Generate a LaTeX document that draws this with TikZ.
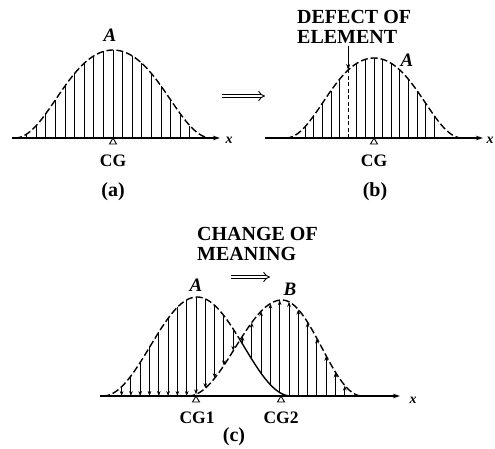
\documentclass[tikz,border=0pt]{standalone}
\usepackage{fontspec}
\setmainfont{Liberation Serif}
\usetikzlibrary{arrows.meta}

\begin{document}
\begin{tikzpicture}[x=1pt, y=-1pt, every node/.style={inner sep=0pt, font=\fontsize{20}{19.5}\selectfont\bfseries},
    xaxis/.style={line width=1.6pt, -{Stealth[length=7pt,width=4.5pt]}},
    bell/.style={line width=1.4pt, dash pattern=on 7pt off 3pt},
    bellsolid/.style={line width=1.4pt},
    elem/.style={line width=1pt},
    defectline/.style={line width=1pt, dash pattern=on 4pt off 2.5pt},
    move/.style={line width=1pt, -{Stealth[length=5pt,width=3.6pt]}},
    pointer/.style={line width=1pt, -{Stealth[length=6pt,width=4pt]}},
    goes/.style={double, double distance=2.6pt, line width=0.9pt, -{Implies}},
    cgmark/.style={line width=0.9pt, fill=white},
    cglab/.style={font=\fontsize{17.5}{18}\selectfont\bfseries},
    curvelab/.style={font=\fontsize{19}{19}\selectfont\bfseries\itshape},
    xlab/.style={font=\fontsize{14}{14}\selectfont\bfseries\itshape},
    declare function={cb(\t,\w)=0.5*(1+cos(180*(\t/\w)));
      bump(\t,\w)=cb(\t,\w)*(1.3-0.3*cb(\t,\w));
      fa(\t)=(abs(\t-197)<94) ? 49.5*(1+cos(180*((\t-197)/94))) : 0;
      fb(\t)=(\t<282) ? ((\t>188) ? 48*(1+cos(180*((\t-282)/94))) : 0) : ((\t<362) ? 48*(1+cos(180*((\t-282)/80))) : 0);}]
    \useasboundingbox (0,0) rectangle (495,448);

    \draw[xaxis] (12,138) -- (220,138);
    \foreach \k in {-9,...,8}
      \draw[elem] ({113+9.6*(\k)},138) -- ({113+9.6*(\k)},{138-88*bump(9.6*(\k),98)});
    \draw[bell] plot[domain=-98:98, samples=80] ({113+\x},{138-88*bump(\x,98)});
    \draw[cgmark] (113,138) -- ++(-3.5,6) -- ++(7,0) -- cycle;
    \node[curvelab] (labA) at (110,35) {A};
    \node[cglab] (cgA) at (113,161) {CG};
    \node (capA) at (113,192) {(a)};
    \node[xlab] (xA) at (229,140) {x};

    \coordinate (fromA) at (222,96);
    \coordinate (toB) at (265,96);
    \draw[goes] (fromA) -- (toB);

    \draw[xaxis] (265,138) -- (483,138);
    \foreach \k in {-8,...,-4,-2,-1,...,7}
      \draw[elem] ({374+8.6*(\k)},138) -- ({374+8.6*(\k)},{138-80*bump(8.6*(\k),88)});
    \coordinate (defecttip) at (348.2,{138-80*bump(-25.8,88)});
    \draw[defectline] (348.2,138) -- (defecttip);
    \draw[bell] plot[domain=-88:88, samples=80] ({374+\x},{138-80*bump(\x,88)});
    \draw[cgmark] (374,138) -- ++(-3.5,6) -- ++(7,0) -- cycle;
    \node[curvelab] (labA2) at (407,60) {A};
    \node[cglab] (cgB) at (374,161) {CG};
    \node (capB) at (375,192) {(b)};
    \node[xlab] (xB) at (490,140) {x};
    \node[align=left, anchor=north west] (defect) at (297,10.5) {DEFECT OF\\ELEMENT};
    \draw[pointer] ([yshift=-2pt]defect.south -| defecttip) -- (defecttip);

    \draw[xaxis] (100,396) -- (400,396);
    \foreach \k in {-8,...,17}{
      \pgfmathsetmacro\xx{196+9.3*(\k)}
      \pgfmathsetmacro\ya{396-fa(\xx)}
      \pgfmathsetmacro\yb{396-fb(\xx)}
      \pgfmathtruncatemacro\ok{abs(\ya-\yb)>5}
      \ifnum\ok=1 \draw[move] (\xx,\ya) -- (\xx,\yb); \fi
    }
    \draw[bell] plot[domain=103:239, samples=70] (\x,{396-fa(\x)});
    \draw[bellsolid] plot[domain=239:291, samples=30] (\x,{396-fa(\x)});
    \draw[bell] plot[domain=188:362, samples=90] (\x,{396-fb(\x)});
    \draw[cgmark] (196,396) -- ++(-3.5,6) -- ++(7,0) -- cycle;
    \draw[cgmark] (281,396) -- ++(-3.5,6) -- ++(7,0) -- cycle;
    \node[curvelab] (labA3) at (196,285) {A};
    \node[curvelab] (labB) at (290,289) {B};
    \node[cglab] (cg1) at (197,418) {CG1};
    \node[cglab] (cg2) at (281,418) {CG2};
    \node (capC) at (234,437) {(c)};
    \node[xlab] (xC) at (413,400) {x};
    \node[align=left, anchor=north west] (change) at (197,227.5) {CHANGE OF\\MEANING};
    \coordinate (fromC) at (231,277);
    \coordinate (toC) at (270,277);
    \draw[goes] (fromC) -- (toC);
\end{tikzpicture}
\end{document}
